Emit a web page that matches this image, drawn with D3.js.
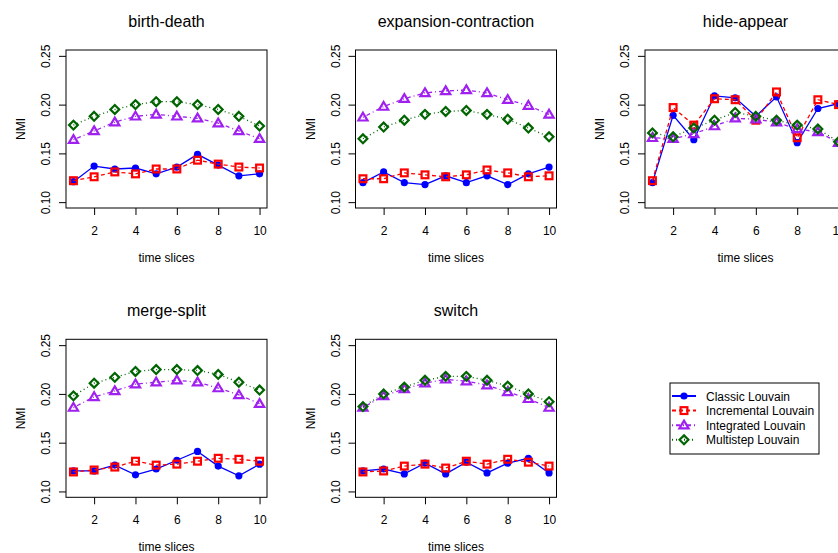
<!DOCTYPE html>
<html>
<head>
<meta charset="utf-8">
<script src="https://cdn.jsdelivr.net/npm/d3@7"></script>
<style>
  body { margin: 0; background: #fff; }
  text { font-family: "Liberation Sans", Arial, sans-serif; fill: #000; }
</style>
</head>
<body>
<svg width="838" height="553"></svg>
<script>
//data
const timeSlices = [1, 2, 3, 4, 5, 6, 7, 8, 9, 10];
const methods = ['Classic Louvain', 'Incremental Louvain', 'Integrated Louvain', 'Multistep Louvain'];
const panelTitles = ['birth-death', 'expansion-contraction', 'hide-appear', 'merge-split', 'switch'];
const yTicks = [0.10, 0.15, 0.20, 0.25];
const xTicks = [2, 4, 6, 8, 10];

// rows: classic, incremental, integrated, multistep
const birthDeath = [
  [0.121, 0.137, 0.134, 0.135, 0.129, 0.136, 0.149, 0.138, 0.127, 0.129],
  [0.122, 0.126, 0.131, 0.129, 0.134, 0.134, 0.143, 0.139, 0.136, 0.135],
  [0.164, 0.173, 0.182, 0.188, 0.190, 0.188, 0.186, 0.181, 0.173, 0.165],
  [0.179, 0.188, 0.195, 0.200, 0.203, 0.203, 0.200, 0.195, 0.188, 0.178]
];
const expansionContraction = [
  [0.120, 0.131, 0.120, 0.118, 0.127, 0.120, 0.127, 0.118, 0.129, 0.136],
  [0.124, 0.124, 0.130, 0.128, 0.126, 0.128, 0.133, 0.130, 0.126, 0.127],
  [0.187, 0.198, 0.206, 0.212, 0.214, 0.215, 0.212, 0.205, 0.199, 0.190],
  [0.165, 0.177, 0.184, 0.190, 0.193, 0.194, 0.190, 0.185, 0.176, 0.167]
];
const hideAppear = [
  [0.120, 0.189, 0.164, 0.209, 0.207, 0.188, 0.208, 0.161, 0.196, 0.201],
  [0.122, 0.197, 0.179, 0.206, 0.205, 0.184, 0.213, 0.166, 0.205, 0.200],
  [0.166, 0.165, 0.170, 0.178, 0.186, 0.185, 0.182, 0.175, 0.172, 0.161],
  [0.171, 0.167, 0.176, 0.184, 0.192, 0.188, 0.184, 0.179, 0.175, 0.162]
];
const mergeSplit = [
  [0.121, 0.121, 0.127, 0.117, 0.123, 0.132, 0.141, 0.126, 0.116, 0.128],
  [0.120, 0.122, 0.125, 0.131, 0.127, 0.128, 0.131, 0.134, 0.133, 0.131],
  [0.186, 0.197, 0.203, 0.210, 0.212, 0.214, 0.212, 0.206, 0.199, 0.190],
  [0.198, 0.211, 0.217, 0.223, 0.225, 0.225, 0.224, 0.220, 0.212, 0.204]
];
const switchData = [
  [0.121, 0.123, 0.118, 0.129, 0.118, 0.130, 0.119, 0.129, 0.134, 0.119],
  [0.120, 0.121, 0.126, 0.128, 0.124, 0.131, 0.128, 0.133, 0.130, 0.126],
  [0.186, 0.198, 0.205, 0.211, 0.215, 0.213, 0.209, 0.202, 0.195, 0.186],
  [0.187, 0.200, 0.207, 0.214, 0.218, 0.218, 0.214, 0.208, 0.200, 0.192]
];
const panels = [birthDeath, expansionContraction, hideAppear, mergeSplit, switchData];

//styles
const colors = ['#0000ff', '#ff0000', '#a020f0', '#006400'];
const dashes = [null, '4,3', '1,3,4,3', '1,3'];
const shapes = ['circle', 'square', 'triangle', 'diamond'];

//set up
const svg = d3.select('svg');
const cellW = 289.5, cellH = 289.3;
const box = { left: 66, right: 267, top: 50, bottom: 208 };

// R style 4% padding around the data limits
const xPad = (10 - 1) * 0.04, yPad = (0.25 - 0.10) * 0.04;
const x = d3.scaleLinear().domain([1 - xPad, 10 + xPad]).range([box.left, box.right]);
const y = d3.scaleLinear().domain([0.10 - yPad, 0.25 + yPad]).range([box.bottom, box.top]);

function marker(g, shape, color) {
  if (shape === 'circle') {
    g.append('circle').attr('r', 3.6).attr('fill', color);
  } else if (shape === 'square') {
    g.append('rect').attr('x', -3.4).attr('y', -3.4).attr('width', 6.8).attr('height', 6.8)
      .attr('fill', 'none').attr('stroke', color).attr('stroke-width', 2.2);
  } else if (shape === 'triangle') {
    g.append('path').attr('d', 'M0,-4.6L4.6,3.2L-4.6,3.2Z')
      .attr('fill', 'none').attr('stroke', color).attr('stroke-width', 2.2);
  } else {
    g.append('path').attr('d', 'M0,-4.4L4.4,0L0,4.4L-4.4,0Z')
      .attr('fill', 'none').attr('stroke', color).attr('stroke-width', 2.2);
  }
}

const line = d3.line().x((d, i) => x(timeSlices[i])).y(d => y(d));

panels.forEach((series, p) => {
  const col = p % 3, row = Math.floor(p / 3);
  const g = svg.append('g').attr('transform', `translate(${col * cellW},${row * cellH})`);

  //title
  g.append('text')
    .attr('x', (box.left + box.right) / 2).attr('y', 27)
    .attr('text-anchor', 'middle').style('font-size', '16px')
    .text(panelTitles[p]);

  //axes
  const xAxis = g.append('g').attr('transform', `translate(0,${box.bottom})`)
    .call(d3.axisBottom(x).tickValues(xTicks).tickSize(7));
  xAxis.select('.domain').remove();
  xAxis.selectAll('line').attr('stroke', '#000');
  xAxis.selectAll('text').attr('y', 27).attr('dy', 0)
    .style('font-size', '12px').style('font-family', '"Liberation Sans", Arial, sans-serif');

  const yAxis = g.append('g').attr('transform', `translate(${box.left},0)`)
    .call(d3.axisLeft(y).tickValues(yTicks).tickFormat(d3.format('.2f')).tickSize(7));
  yAxis.select('.domain').remove();
  yAxis.selectAll('line').attr('stroke', '#000');
  yAxis.selectAll('text')
    .attr('x', 0).attr('y', -16).attr('dy', 0)
    .attr('transform', 'rotate(-90)')
    .attr('text-anchor', 'middle')
    .style('font-size', '12px').style('font-family', '"Liberation Sans", Arial, sans-serif');

  g.append('rect')
    .attr('x', box.left).attr('y', box.top)
    .attr('width', box.right - box.left).attr('height', box.bottom - box.top)
    .attr('fill', 'none').attr('stroke', '#000').attr('stroke-width', 1);

  g.append('text')
    .attr('x', (box.left + box.right) / 2).attr('y', 262)
    .attr('text-anchor', 'middle').style('font-size', '12px')
    .text('time slices');

  g.append('text')
    .attr('transform', `translate(25,${(box.top + box.bottom) / 2}) rotate(-90)`)
    .attr('text-anchor', 'middle').style('font-size', '12px')
    .text('NMI');

  //series
  series.forEach((vals, k) => {
    g.append('path')
      .attr('d', line(vals))
      .attr('fill', 'none')
      .attr('stroke', colors[k])
      .attr('stroke-width', 1.3)
      .attr('stroke-dasharray', dashes[k]);

    g.selectAll(null)
      .data(vals)
      .join('g')
      .attr('transform', (d, i) => `translate(${x(timeSlices[i])},${y(d)})`)
      .each(function() { marker(d3.select(this), shapes[k], colors[k]); });
  });
});

//legend
const lg = svg.append('g').attr('transform', 'translate(670,383)');
lg.append('rect').attr('width', 149).attr('height', 71)
  .attr('fill', '#fff').attr('stroke', '#000').attr('stroke-width', 1);

methods.forEach((m, k) => {
  const row = lg.append('g').attr('transform', `translate(0,${13 + k * 14.6})`);
  row.append('line')
    .attr('x1', 2).attr('x2', 26)
    .attr('stroke', colors[k]).attr('stroke-width', 2)
    .attr('stroke-dasharray', dashes[k]);
  marker(row.append('g').attr('transform', 'translate(14,0)'), shapes[k], colors[k]);
  row.append('text')
    .attr('x', 36).attr('y', 4.5)
    .style('font-size', '12px')
    .text(m);
});
</script>
</body>
</html>
